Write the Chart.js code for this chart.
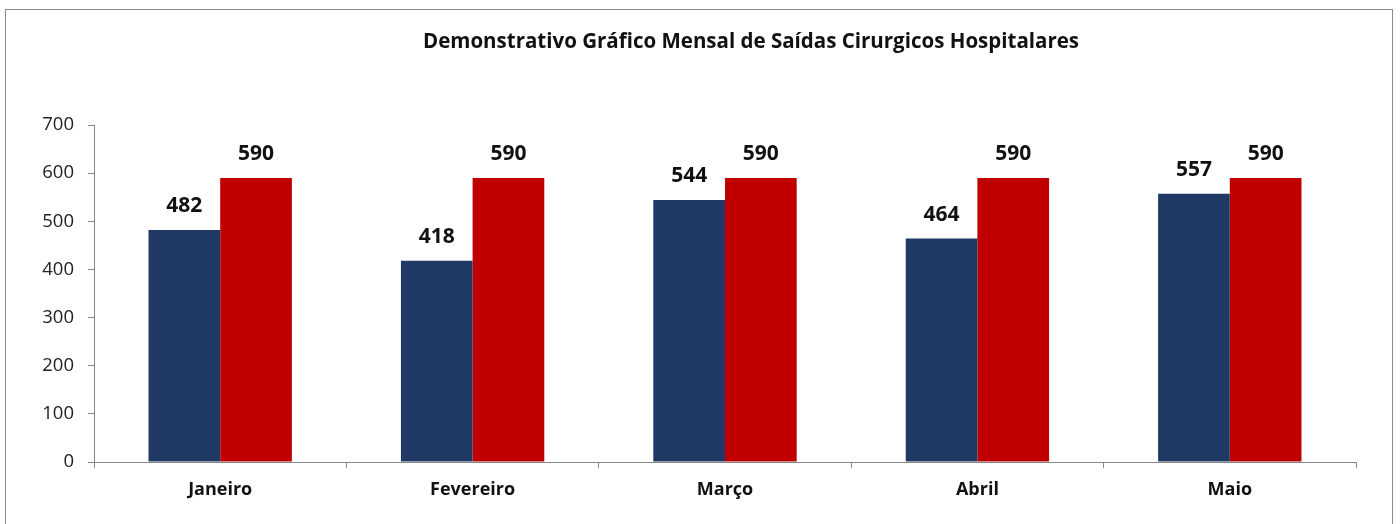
<!DOCTYPE html>
<html>
<head>
<meta charset="utf-8">
<script src="https://cdn.jsdelivr.net/npm/chart.js@4"></script>
<style>
  html, body { margin: 0; padding: 0; background: #fff; }
  #wrap { position: relative; width: 1400px; height: 524px; }
  #frame { position: absolute; left: 5px; top: 9px; width: 1388px; height: 530px; border: 1px solid #8a8a8a; box-sizing: border-box; }
  canvas { position: absolute; left: 0; top: 0; }
</style>
</head>
<body>
<div id="wrap">
  <div id="frame"></div>
  <canvas id="chart" width="1400" height="524"></canvas>
</div>
<script>
// monthly surgical discharges
const months = ["Janeiro", "Fevereiro", "Março", "Abril", "Maio"];
const realizadas = [482, 418, 544, 464, 557];
const meta = [590, 590, 590, 590, 590];
const yTicks = [0, 100, 200, 300, 400, 500, 600, 700];

const FONT = "'Open Sans', 'Liberation Sans', sans-serif";

// labels above each bar, bold
const barLabels = {
  id: "barLabels",
  afterDatasetsDraw(chart) {
    const ctx = chart.ctx;
    ctx.save();
    ctx.font = "bold 21px " + FONT;
    ctx.fillStyle = "#111";
    ctx.textAlign = "center";
    ctx.textBaseline = "middle";
    chart.data.datasets.forEach((ds, i) => {
      chart.getDatasetMeta(i).data.forEach((bar, j) => {
        ctx.fillText(ds.data[j], bar.x, bar.y - 24);
      });
    });
    ctx.restore();
  }
};

const titleText = {
  id: "titleText",
  afterDraw(chart) {
    const ctx = chart.ctx;
    ctx.save();
    ctx.font = "bold 20.5px " + FONT;
    ctx.fillStyle = "#111";
    ctx.textAlign = "center";
    ctx.textBaseline = "middle";
    ctx.fillText("Demonstrativo Gráfico Mensal de Saídas Cirurgicos Hospitalares", 751, 42);
    ctx.restore();
  }
};

new Chart(document.getElementById("chart"), {
  type: "bar",
  data: {
    labels: months,
    datasets: [
      { label: "Realizado", data: realizadas, backgroundColor: "#203864" },
      { label: "Meta", data: meta, backgroundColor: "#C00000" }
    ]
  },
  options: {
    responsive: false,
    animation: false,
    layout: { padding: { top: 125, right: 44, left: 0, bottom: 0 } },
    plugins: { legend: { display: false }, tooltip: { enabled: false } },
    datasets: { bar: { categoryPercentage: 0.568, barPercentage: 1 } },
    scales: {
      x: {
        grid: { drawOnChartArea: false, drawTicks: true, tickLength: 6, color: "#888" },
        border: { color: "#888" },
        ticks: { color: "#111", font: { family: FONT, size: 18, weight: "bold" }, padding: 11 },
        afterFit(scale) { scale.height = 62; }
      },
      y: {
        min: 0,
        max: 700,
        afterBuildTicks(scale) { scale.ticks = yTicks.map(v => ({ value: v })); },
        grid: { drawOnChartArea: false, drawTicks: true, tickLength: 6, color: "#888" },
        border: { color: "#888" },
        ticks: { color: "#222", font: { family: FONT, size: 18.5 }, padding: 14 },
        afterFit(scale) { scale.width = 94; }
      }
    }
  },
  plugins: [barLabels, titleText]
});
</script>
</body>
</html>
